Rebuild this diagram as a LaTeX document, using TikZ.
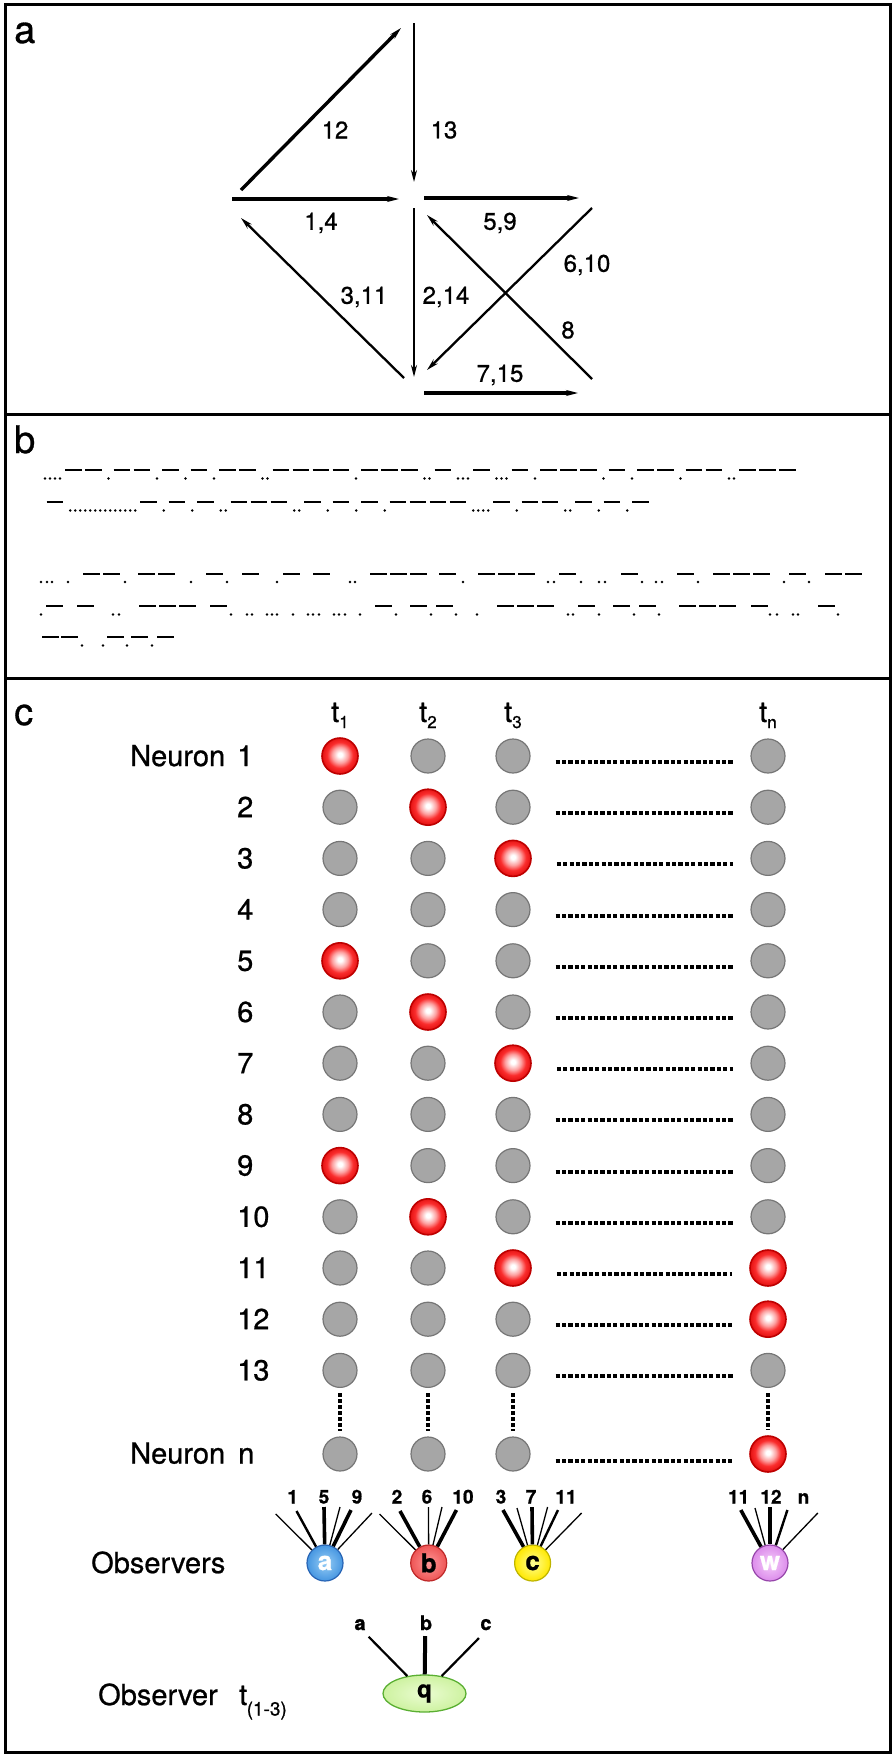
\documentclass[tikz,border=0pt]{standalone}
\usepackage{fontspec}
\setmainfont{TeX Gyre Heros}[FakeBold=0.8]
\usetikzlibrary{arrows.meta,shapes.geometric}

\definecolor{redmid}{RGB}{250,45,45}
\definecolor{redout}{RGB}{228,18,18}
\definecolor{redbd}{RGB}{190,0,0}
\definecolor{grayfill}{RGB}{166,166,166}
\definecolor{graybd}{RGB}{118,118,118}
\definecolor{aIn}{RGB}{150,205,245}
\definecolor{aOut}{RGB}{70,150,225}
\definecolor{aBd}{RGB}{40,100,180}
\definecolor{bIn}{RGB}{255,150,150}
\definecolor{bOut}{RGB}{238,85,85}
\definecolor{bBd}{RGB}{190,40,40}
\definecolor{cIn}{RGB}{255,255,150}
\definecolor{cOut}{RGB}{255,232,0}
\definecolor{cBd}{RGB}{190,180,0}
\definecolor{wIn}{RGB}{245,205,250}
\definecolor{wOut}{RGB}{220,140,235}
\definecolor{wBd}{RGB}{150,70,170}
\definecolor{qIn}{RGB}{235,252,210}
\definecolor{qOut}{RGB}{205,242,160}
\definecolor{qBd}{RGB}{90,175,50}
\colorlet{redpink}{white!55!redmid}

\pgfdeclareradialshading{redball}{\pgfpoint{0bp}{2bp}}{color(0bp)=(white); color(3bp)=(white); color(11bp)=(redpink); color(18bp)=(redmid); color(25bp)=(redout); color(50bp)=(redout)}

\newcommand\fsz[1]{\fontsize{#1}{#1}\selectfont}

\makeatletter
\newcommand\morse[3]{%
  \def\mx{#1}\def\mprev{s}\def\my{#2}%
  \@tfor\mc:=#3\do{%
    \if\mc-%
      \if\mprev-\pgfmathsetmacro\ms{\mx+3.5}\else
        \if\mprev.\pgfmathsetmacro\ms{\mx+5}\else\let\ms\mx\fi\fi
      \draw[mdash] (\ms,\my) -- ++(16.5,0);
      \pgfmathsetmacro\mx{\ms+16.5}%
    \else
      \if\mprev-\pgfmathsetmacro\ms{\mx+7}\else
        \if\mprev.\pgfmathsetmacro\ms{\mx+5}\else\let\ms\mx\fi\fi
      \fill (\ms,\my+8.5) circle[radius=1.4pt];
      \let\mx\ms
    \fi
    \let\mprev\mc
  }}
\makeatother

\begin{document}
\begin{tikzpicture}[x=1pt,y=-1pt,
  thk/.style={line width=3.4pt},
  mid/.style={line width=2.3pt},
  thn/.style={line width=1.7pt},
  arr/.style={-{Stealth[length=12pt,width=6pt]}},
  alab/.style={font=\fsz{24}, inner sep=0pt},
  plab/.style={font=\fsz{38}, anchor=base west, inner sep=0pt},
  mdash/.style={line width=2.6pt},
  offcell/.style={circle, draw=graybd, fill=grayfill, line width=1.2pt, minimum size=34pt, inner sep=0pt},
  oncell/.style={circle, draw=redbd, shading=redball, line width=1.6pt, minimum size=36pt, inner sep=0pt},
  hdots/.style={line width=4pt, dash pattern=on 4.2pt off 2.2pt},
  vdots/.style={line width=3.5pt, dash pattern=on 3.5pt off 2.5pt},
  rlab/.style={font=\fsz{29}, anchor=base west, inner sep=0pt},
  obs/.style={circle, minimum size=36pt, inner sep=0pt, line width=1.2pt, font=\bfseries\fsz{26}},
  fanlbl/.style={font=\bfseries\fsz{19}, anchor=base, inner sep=0pt},
  qlbl/.style={font=\bfseries\fsz{20}, anchor=base, inner sep=0pt}
]
\useasboundingbox (0,0) rectangle (894,1757);
% frames
\draw[line width=3pt] (5,4) rectangle (890,1752);
\draw[line width=3pt] (5,414) -- (890,414);
\draw[line width=3pt] (5,678) -- (890,678);

% ---------- panel a ----------
\node[plab] (pa) at (14,43) {a};
\coordinate (a12s) at (241,190);  \coordinate (a12e) at (401,28);
\coordinate (a13s) at (414,23);   \coordinate (a13e) at (414,182);
\coordinate (a14s) at (232,199);  \coordinate (a14e) at (399,199);
\coordinate (a59s) at (424,198);  \coordinate (a59e) at (579,198);
\coordinate (a610s) at (592,208); \coordinate (a610e) at (427,370);
\coordinate (a8s) at (592,379);   \coordinate (a8e) at (427,215);
\coordinate (a214s) at (414,208); \coordinate (a214e) at (414,377);
\coordinate (a311s) at (404,378); \coordinate (a311e) at (241,218);
\coordinate (a715s) at (424,393); \coordinate (a715e) at (578,393);
\draw[thk,arr] (a12s) -- (a12e);
\draw[thn,arr] (a13s) -- (a13e);
\draw[thk,arr] (a14s) -- (a14e);
\draw[thk,arr] (a59s) -- (a59e);
\draw[mid,arr] (a610s) -- (a610e);
\draw[mid,arr] (a8s) -- (a8e);
\draw[mid,arr] (a214s) -- (a214e);
\draw[mid,arr] (a311s) -- (a311e);
\draw[thk,arr] (a715s) -- (a715e);
\node[alab] (l12) at (335,130) {12};
\node[alab] (l13) at (444,130) {13};
\node[alab] (l14) at (321,223) {1,4};
\node[alab] (l59) at (500,223) {5,9};
\node[alab] (l610) at (587,265) {6,10};
\node[alab] (l311) at (364,297) {3,11};
\node[alab] (l214) at (446,297) {2,14};
\node[alab] (l8) at (568,330) {8};
\node[alab] (l715) at (500,375) {7,15};

% ---------- panel b ----------
\node[plab] (pb) at (14,453) {b};
\morse{45}{470}{....--.--.-.-.--..----.---..-...-...-.---.-.--.--..---}
\morse{46.7}{502}{-..............-.-.-..---..-.-.-.----....-.--..-.-.-}
\foreach \x in {83,103,138,158,206,242,283,313,370,390,410,439,478,498,518,559,621,677,713,733,753,789,825,845}
  \draw[mdash] (\x,574) -- ++(16.5,0);
\foreach \x in {41,47,52,68,125,191,227,277,350,355,463,548,554,581,599,605,642,656,662,698,784,809}
  \fill (\x,582) circle[radius=1.4pt];
\foreach \x in {46,77,139,159,179,210,375,410,436,497,517,537,578,613,639,679,699,719,751,818}
  \draw[mdash] (\x,606) -- ++(16.5,0);
\foreach \x in {41,113,119,231,247,252,267,272,277,293,308,313,319,334,339,345,360,396,431,456,477,568,573,599,634,659,770,777,793,798,838}
  \fill (\x,614.5) circle[radius=1.4pt];
\foreach \x in {42,61,107,131,157}
  \draw[mdash] (\x,637) -- ++(16.5,0);
\foreach \x in {82,103,127,152}
  \fill (\x,645.5) circle[radius=1.4pt];

% ---------- panel c ----------
\node[plab] (pc) at (14,725) {c};
\node[rlab] (t1) at (331,722) {t\raisebox{-6pt}{\fsz{17}1}};
\node[rlab] (t2) at (419,722) {t\raisebox{-6pt}{\fsz{17}2}};
\node[rlab] (t3) at (504,722) {t\raisebox{-6pt}{\fsz{17}3}};
\node[rlab] (tn) at (759,722) {t\raisebox{-6pt}{\fsz{17}n}};
\node[rlab] (neur1) at (130,766) {Neuron};

\foreach \r/\fa/\fb/\fc/\fd in {1/1/0/0/0,2/0/1/0/0,3/0/0/1/0,4/0/0/0/0,5/1/0/0/0,6/0/1/0/0,7/0/0/1/0,8/0/0/0/0,9/1/0/0/0,10/0/1/0/0,11/0/0/1/1,12/0/0/0/1,13/0/0/0/0}{
  \pgfmathsetmacro\yy{756+(\r-1)*51.2}
  \foreach \k/\xx/\f in {1/340/\fa,2/428/\fb,3/513/\fc,4/768/\fd}{
    \ifnum\f=1 \node[oncell] (n\r-\k) at (\xx,\yy) {};
    \else \node[offcell] (n\r-\k) at (\xx,\yy) {};
    \fi
  }
  \node[rlab] (lab\r) at (237,\yy+10) {\r};
  \draw[hdots] ([xshift=25pt,yshift=-6pt]n\r-3.east) -- ([xshift=-17pt,yshift=-6pt]n\r-4.west);
}
% row n
\node[offcell] (nn-1) at (340,1454) {};
\node[offcell] (nn-2) at (428,1454) {};
\node[offcell] (nn-3) at (513,1454) {};
\node[oncell] (nn-4) at (768,1454) {};
\node[rlab] (neurn) at (130,1463.5) {Neuron};
\node[rlab] (labn) at (238,1463.5) {n};
\draw[hdots] ([xshift=25pt,yshift=-7pt]nn-3.east) -- ([xshift=-17pt,yshift=-7pt]nn-4.west);
\foreach \k in {1,2,3,4}
  \draw[vdots] ([yshift=-5pt]n13-\k.south) -- ([yshift=5pt]nn-\k.north);

% observers
\node[rlab] (obslab) at (91,1573) {Observers};
\node[obs, draw=aBd, inner color=aIn, outer color=aOut, shading=radial, text=white] (oa) at (325,1563) {a};
\node[obs, draw=bBd, inner color=bIn, outer color=bOut, shading=radial, text=black] (ob) at (428.7,1563) {b};
\node[obs, draw=cBd, inner color=cIn, outer color=cOut, shading=radial, text=black] (oc) at (532.6,1563) {c};
\node[obs, draw=wBd, inner color=wIn, outer color=wOut, shading=radial, text=white] (ow) at (770,1563) {w};

\foreach \x/\y/\w [count=\i] in {275.7/1514/1.3, 296.5/1511/2.4, 324/1507/3.6, 340/1507/1.3, 351/1510/3.6, 372/1513/1.3}{
  \coordinate (fa\i) at (\x,\y); \draw[line width=\w pt] (fa\i) -- (oa);}
\foreach \x/\y/\w [count=\i] in {379.5/1514/1.3, 400/1511/3.6, 428.5/1507/1.3, 442/1507/1.3, 456.4/1510/3.6}{
  \coordinate (fb\i) at (\x,\y); \draw[line width=\w pt] (fb\i) -- (ob);}
\foreach \x/\y/\w [count=\i] in {503/1510/3.6, 517/1508/1.3, 532/1507/3.6, 547.6/1507/1.3, 558/1510/2.4, 581.6/1513/1.3}{
  \coordinate (fc\i) at (\x,\y); \draw[line width=\w pt] (fc\i) -- (oc);}
\foreach \x/\y/\w [count=\i] in {740.8/1510/3.6, 755/1508/1.3, 770/1507/3.6, 787.4/1510/2.4, 817.8/1513/1.3}{
  \coordinate (fw\i) at (\x,\y); \draw[line width=\w pt] (fw\i) -- (ow);}

\node[fanlbl] (fl1) at (292.7,1503.5) {1};
\node[fanlbl] (fl5) at (324,1503.5) {5};
\node[fanlbl] (fl9) at (357,1503.5) {9};
\node[fanlbl] (fl2) at (397,1503.5) {2};
\node[fanlbl] (fl6) at (427,1503.5) {6};
\node[fanlbl] (fl10) at (463,1503.5) {10};
\node[fanlbl] (fl3) at (501,1503.5) {3};
\node[fanlbl] (fl7) at (531,1503.5) {7};
\node[fanlbl] (fl11) at (566,1503.5) {11};
\node[fanlbl] (fw11) at (738.6,1503.5) {11};
\node[fanlbl] (fw12) at (771,1503.5) {12};
\node[fanlbl] (fwn) at (803.5,1503.5) {n};

% observer q
\node[rlab] (obq) at (98,1705) {Observer};
\node[rlab] (tq) at (239,1705) {t};
\node[font=\fsz{19}, anchor=base west, inner sep=0pt] (tqs) at (246.5,1715.5) {(1-3)};
\node[ellipse, draw=qBd, line width=1.3pt, inner color=qIn, outer color=qOut, shading=radial, minimum width=83pt, minimum height=37pt, inner sep=0pt, font=\bfseries\fsz{24}] (q) at (424.5,1693.5) {q};
\node[qlbl] (qa) at (360,1630) {a};
\node[qlbl] (qb) at (426,1630) {b};
\node[qlbl] (qc) at (486,1630) {c};
\coordinate (qla) at (368.6,1636.7);
\coordinate (qlb) at (425.2,1636);
\coordinate (qlc) at (479,1638);
\draw[line width=2.2pt] (qla) -- (q);
\draw[line width=4pt] (qlb) -- (q);
\draw[line width=2.2pt] (qlc) -- (q);
\end{tikzpicture}
\end{document}
